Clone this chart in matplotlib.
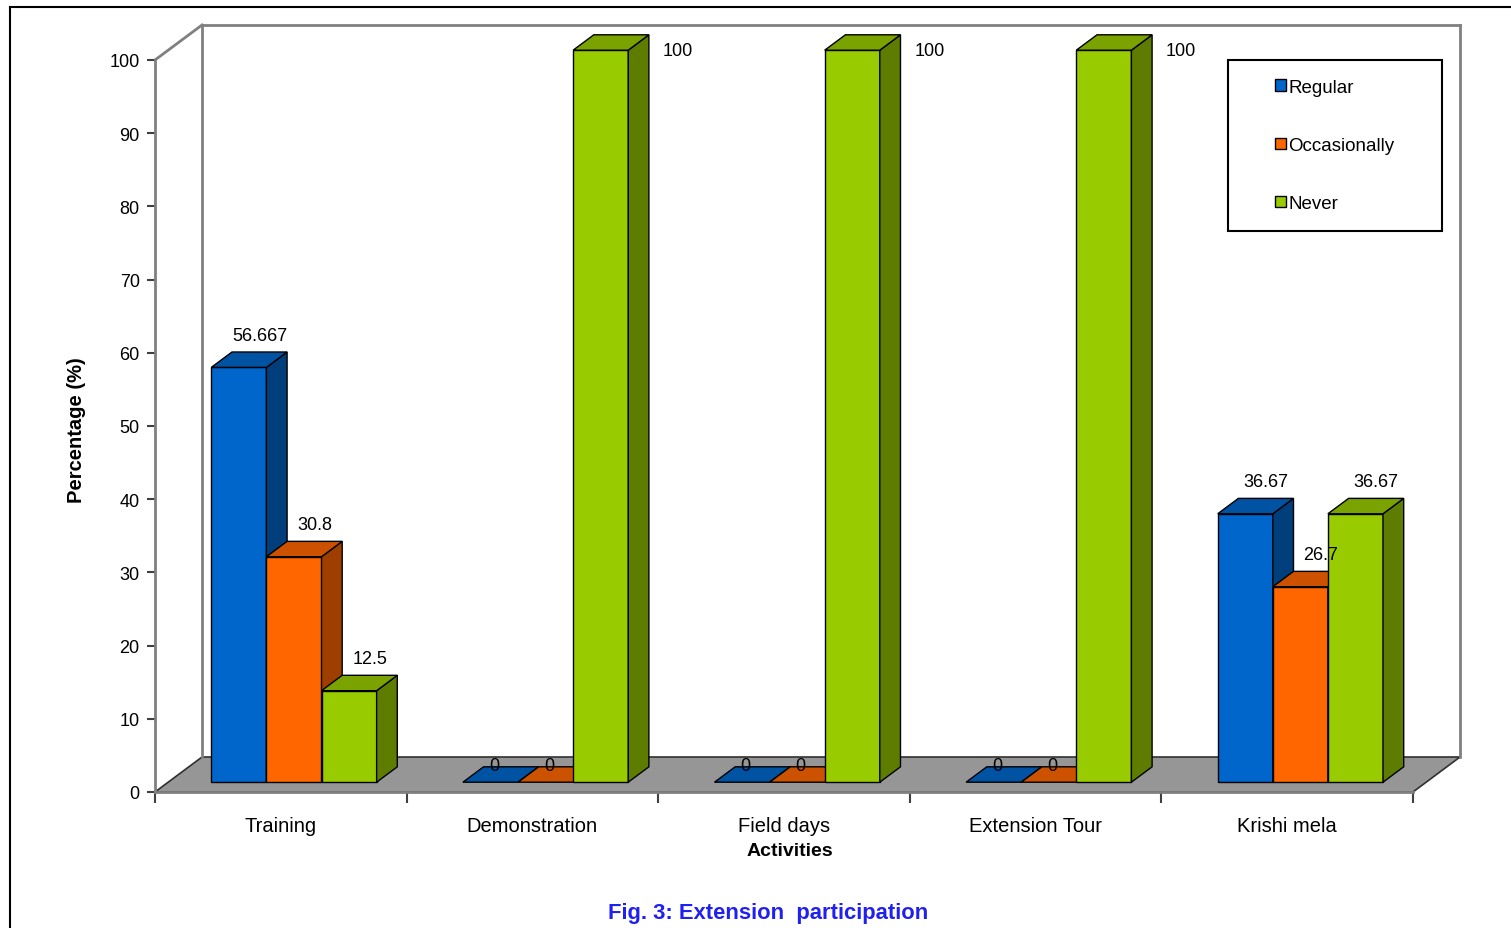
import matplotlib
matplotlib.use("Agg")
import matplotlib.pyplot as plt
from matplotlib.patches import Polygon, Rectangle, Patch
from matplotlib.lines import Line2D

plt.rcParams['font.family'] = ['Liberation Sans', 'DejaVu Sans']

activities = ['Training', 'Demonstration', 'Field days', 'Extension Tour', 'Krishi mela']
series_names = ['Regular', 'Occasionally', 'Never']
regular = [56.667, 0, 0, 0, 36.67]
occasionally = [30.8, 0, 0, 0, 26.7]
never = [12.5, 100, 100, 100, 36.67]
value_labels = [['56.667', '0', '0', '0', '36.67'],
                ['30.8', '0', '0', '0', '26.7'],
                ['12.5', '100', '100', '100', '36.67']]

# front / top / side shades for each series
shades = [('#0066CC', '#0052A3', '#003E7C'),
          ('#FF6600', '#CC5200', '#9E3F00'),
          ('#99CC00', '#7AA300', '#5E7D00')]

W, H = 1511, 929
fig = plt.figure(figsize=(W / 100, H / 100), dpi=100)

# front plane of the plot area in pixels
px0, px1, py0, py1 = 155, 1413, 793, 61
ax = fig.add_axes([px0 / W, 1 - py0 / H, (px1 - px0) / W, (py0 - py1) / H])
ax.set_xlim(0, len(activities))
ax.set_ylim(0, 100)

# depth of the 3d box in data units
DX = 47 / ((px1 - px0) / len(activities))
DY = 35 / ((py0 - py1) / 100)
F0, F1 = 0.28, 0.72   # bar front / back depth
bw = 0.219            # bar width


def P(x, y, d):
    return (x + d * DX, y + d * DY)


edge = '#808080'
nx = len(activities)
# floor
ax.add_patch(Polygon([P(0, 0, 0), P(nx, 0, 0), P(nx, 0, 1), P(0, 0, 1)],
                     closed=True, facecolor='#969696', edgecolor='#303030',
                     lw=1.2, clip_on=False, zorder=1))
# back and side walls
for a, b in [(P(0, 0, 1), P(0, 100, 1)), (P(0, 100, 1), P(nx, 100, 1)),
             (P(nx, 100, 1), P(nx, 0, 1)), (P(0, 100, 0), P(0, 100, 1))]:
    ax.add_line(Line2D([a[0], b[0]], [a[1], b[1]], color=edge, lw=2,
                       clip_on=False, zorder=1))

z = 3
for i in range(nx):
    for j, vals in enumerate([regular, occasionally, never]):
        v = vals[i]
        front, top, side = shades[j]
        x0 = i + 0.5 - 1.5 * bw + j * bw
        x1 = x0 + bw
        kw = dict(closed=True, edgecolor='black', lw=1, clip_on=False,
                  joinstyle='miter')
        if v > 0:
            ax.add_patch(Polygon([P(x0, 0, F0), P(x1, 0, F0), P(x1, v, F0), P(x0, v, F0)],
                                 facecolor=front, zorder=z, **kw))
            ax.add_patch(Polygon([P(x1, 0, F0), P(x1, 0, F1), P(x1, v, F1), P(x1, v, F0)],
                                 facecolor=side, zorder=z, **kw))
        ax.add_patch(Polygon([P(x0, v, F0), P(x1, v, F0), P(x1, v, F1), P(x0, v, F1)],
                             facecolor=top, zorder=z, **kw))
        z += 1

        # value label above the bar, or beside it when there is no room
        lab = value_labels[j][i]
        if v >= 95:
            xy = (P(x1, v, F1)[0], P(x1, v, F0)[1])
            ax.annotate(lab, xy, xytext=(10, 0), textcoords='offset points',
                        ha='left', va='center', fontsize=13,
                        annotation_clip=False, zorder=20)
        elif v == 0:
            ax.annotate(lab, P((x0 + x1) / 2, v, (F0 + F1) / 2), xytext=(-5, 0),
                        textcoords='offset points', ha='center', va='bottom',
                        fontsize=13, annotation_clip=False, zorder=20)
        else:
            ax.annotate(lab, P((x0 + x1) / 2, v, F1), xytext=(0, 6),
                        textcoords='offset points', ha='center', va='bottom',
                        fontsize=13, annotation_clip=False, zorder=20)

# axes
for s in ['top', 'right']:
    ax.spines[s].set_visible(False)
for s in ['left', 'bottom']:
    ax.spines[s].set_color(edge)
    ax.spines[s].set_linewidth(2)
    ax.spines[s].set_zorder(2)
ax.set_yticks(range(0, 101, 10))
ax.tick_params(axis='y', length=6, width=1.5, color='#404040', labelsize=13, pad=5)
ax.set_xticks(range(nx + 1))
ax.set_xticklabels([])
ax.tick_params(axis='x', which='major', length=8, width=1.5, color='#404040')
ax.set_xticks([i + 0.5 for i in range(nx)], minor=True)
ax.set_xticklabels(activities, minor=True, fontsize=14.5)
ax.tick_params(axis='x', which='minor', length=0, pad=17)
ax.patch.set_visible(False)

fig.text(790 / W, 1 - 852 / H, 'Activities', ha='center', va='center',
         fontsize=14, fontweight='bold')
fig.text(77 / W, 1 - 430 / H, 'Percentage (%)', ha='center', va='center',
         rotation=90, fontsize=14.5, fontweight='bold')
fig.text(768 / W, 1 - 914 / H, 'Fig. 3: Extension  participation', ha='center',
         va='center', fontsize=15.8, fontweight='bold', color='#2020F0')

# legend with its own box
lx0, ly0, lx1, ly1 = 1228, 61, 1442, 232
fig.patches.append(Rectangle((lx0 / W, 1 - ly1 / H), (lx1 - lx0) / W, (ly1 - ly0) / H,
                             transform=fig.transFigure, facecolor='white',
                             edgecolor='black', lw=1.5, zorder=5))
handles = [Patch(facecolor=shades[k][0], edgecolor='black', lw=1) for k in range(3)]
fig.legend(handles, series_names, loc='center',
           bbox_to_anchor=((lx0 + lx1) / 2 / W, 1 - (ly0 + ly1) / 2 / H),
           frameon=False, fontsize=13.5, handlelength=0.55, handleheight=0.55,
           handletextpad=0.15, labelspacing=2.2)

# outer frame
fig.add_artist(Line2D([10 / W, 10 / W], [0, 1 - 8 / H], color='black', lw=1.5))
fig.add_artist(Line2D([10 / W, 1], [1 - 8 / H, 1 - 8 / H], color='black', lw=1.5))

fig.savefig('out.png', dpi=100)
